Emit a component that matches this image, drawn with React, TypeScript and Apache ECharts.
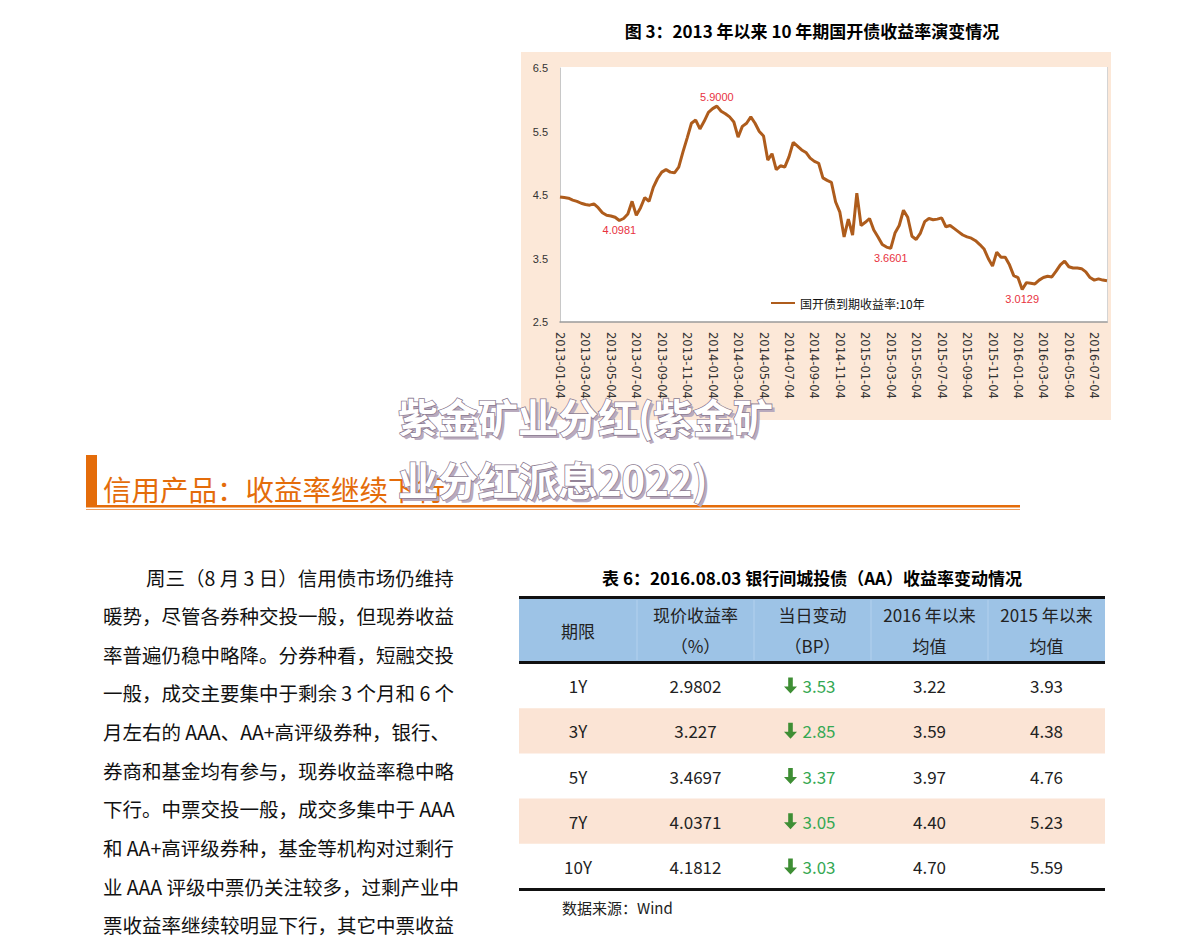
import React, { useEffect, useRef } from 'react';
import * as echarts from 'echarts';

// ---------------- data ----------------
const chartTitle = '图 3：2013 年以来 10 年期国开债收益率演变情况';
const seriesName = '国开债到期收益率:10年';

const years = [2013, 2014, 2015, 2016];
const dayMarks = ['04', '14', '24'];
const dates: string[] = [];
for (const y of years) {
  for (let m = 1; m <= 12; m++) {
    if (y === 2016 && m > 7) break;
    for (const d of dayMarks) dates.push(`${y}-${String(m).padStart(2, '0')}-${d}`);
  }
}
dates.push('2016-08-03');

const tickLabels = [
  '2013-01-04', '2013-03-04', '2013-05-04', '2013-07-04', '2013-09-04', '2013-11-04',
  '2014-01-04', '2014-03-04', '2014-05-04', '2014-07-04', '2014-09-04', '2014-11-04',
  '2015-01-04', '2015-03-04', '2015-05-04', '2015-07-04', '2015-09-04', '2015-11-04',
  '2016-01-04', '2016-03-04', '2016-05-04', '2016-07-04',
];

const yTickLabels = [2.5, 3.5, 4.5, 5.5, 6.5];

const yields = [
  4.47, 4.46, 4.45, 4.42, 4.40, 4.37, 4.35, 4.34, 4.36, 4.30,
  4.22, 4.18, 4.17, 4.15, 4.0981, 4.13, 4.20, 4.40, 4.18, 4.30,
  4.46, 4.40, 4.62, 4.76, 4.86, 4.90, 4.86, 4.85, 4.94, 5.18,
  5.40, 5.63, 5.68, 5.54, 5.66, 5.80, 5.86, 5.90, 5.82, 5.78,
  5.73, 5.65, 5.41, 5.58, 5.63, 5.73, 5.63, 5.50, 5.43, 5.05,
  5.15, 4.90, 4.96, 4.94, 5.10, 5.33, 5.27, 5.21, 5.17, 5.08,
  5.03, 5.00, 4.77, 4.73, 4.70, 4.39, 4.23, 3.84, 4.12, 3.87,
  4.53, 4.02, 4.07, 4.13, 3.95, 3.84, 3.72, 3.68, 3.6601, 3.90,
  4.02, 4.26, 4.15, 3.85, 3.80, 3.90, 4.08, 4.13, 4.11, 4.12,
  4.14, 4.00, 4.02, 3.97, 3.92, 3.87, 3.84, 3.82, 3.78, 3.72,
  3.65, 3.50, 3.38, 3.60, 3.52, 3.52, 3.40, 3.23, 3.20, 3.0129,
  3.12, 3.11, 3.10, 3.16, 3.20, 3.22, 3.21, 3.30, 3.40, 3.46,
  3.37, 3.35, 3.35, 3.34, 3.29, 3.20, 3.16, 3.18, 3.16, 3.15,
];

const extremaIdx = [14, 37, 78, 109];
const extremaPos = ['bottom', 'top', 'bottom', 'bottom'];

// heading / watermark / paragraph
const sectionHeading = '信用产品：收益率继续下行';
const watermarkLines = ['紫金矿业分红(紫金矿', '业分红派息2022)'];
const paragraphLines = [
  '周三（8 月 3 日）信用债市场仍维持',
  '暖势，尽管各券种交投一般，但现券收益',
  '率普遍仍稳中略降。分券种看，短融交投',
  '一般，成交主要集中于剩余 3 个月和 6 个',
  '月左右的 AAA、AA+高评级券种，银行、',
  '券商和基金均有参与，现券收益率稳中略',
  '下行。中票交投一般，成交多集中于 AAA',
  '和 AA+高评级券种，基金等机构对过剩行',
  '业 AAA 评级中票仍关注较多，过剩产业中',
  '票收益率继续较明显下行，其它中票收益',
];

// table
const tableTitle = '表 6：2016.08.03 银行间城投债（AA）收益率变动情况';
const headerLine1 = ['现价收益率', '当日变动', '2016 年以来', '2015 年以来'];
const headerLine2 = ['（%）', '（BP）', '均值', '均值'];
const firstHeader = '期限';
const tenors = ['1Y', '3Y', '5Y', '7Y', '10Y'];
const currentYield = ['2.9802', '3.227', '3.4697', '4.0371', '4.1812'];
const dailyChangeBP = [3.53, 2.85, 3.37, 3.05, 3.03];
const avgSince2016 = [3.22, 3.59, 3.97, 4.40, 4.70];
const avgSince2015 = [3.93, 4.38, 4.76, 5.23, 5.59];
const sourceNote = '数据来源：Wind';

// ---------------- layout ----------------
const CJK = 'Noto Sans CJK SC';
const ORANGE = '#E46C0A';

function txt(x: number, y: number, text: string, opts: any = {}) {
  const align = opts.align || 'left';
  return {
    type: 'text',
    x,
    y,
    z: opts.z ?? 10,
    style: {
      text,
      fill: opts.fill || '#111',
      fontSize: opts.fontSize || 14,
      fontFamily: opts.fontFamily || CJK,
      fontWeight: opts.fontWeight || 'normal',
      align,
      textAlign: align,
      verticalAlign: 'middle',
      textVerticalAlign: 'middle',
      stroke: opts.stroke,
      lineWidth: opts.lineWidth,
    },
  };
}

function buildGraphics() {
  const g: any[] = [];
  // chart panel
  g.push({ type: 'rect', z: -10, shape: { x: 521, y: 52, width: 590, height: 368 }, style: { fill: '#FCE8D8' } });
  g.push({ type: 'rect', z: -9, shape: { x: 560, y: 67, width: 547, height: 255 }, style: { fill: '#ffffff' } });
  g.push({ type: 'line', z: -8, shape: { x1: 1107.5, y1: 67, x2: 1107.5, y2: 323 }, style: { stroke: '#d4d4d4', lineWidth: 1 } });
  g.push(txt(812, 30, chartTitle, { align: 'center', fontSize: 17, fontWeight: 'bold', fill: '#000' }));

  // heading
  g.push({ type: 'rect', z: 5, shape: { x: 86, y: 455, width: 11, height: 51 }, style: { fill: ORANGE } });
  g.push(txt(103, 488, sectionHeading, { fontSize: 28.5, fill: ORANGE }));
  g.push({ type: 'rect', z: 5, shape: { x: 86, y: 505, width: 934, height: 2.5 }, style: { fill: ORANGE } });
  g.push({ type: 'rect', z: 5, shape: { x: 86, y: 509, width: 934, height: 1 }, style: { fill: '#F0A060' } });

  // paragraph
  paragraphLines.forEach((line, i) => {
    g.push(txt(i === 0 ? 146 : 103, 577 + i * 38.65, line, { fontSize: 19.5, fill: '#111' }));
  });

  // table
  const colX = [519, 637, 754, 871, 988, 1105];
  const colC = colX.slice(0, 5).map((x, i) => (x + colX[i + 1]) / 2);
  g.push(txt(812, 577, tableTitle, { align: 'center', fontSize: 17, fontWeight: 'bold', fill: '#000' }));
  g.push({ type: 'rect', z: 4, shape: { x: 519, y: 599, width: 586, height: 62 }, style: { fill: '#9DC3E6' } });
  for (let k = 1; k < 5; k++) {
    g.push({ type: 'line', z: 5, shape: { x1: colX[k], y1: 600, x2: colX[k], y2: 660 }, style: { stroke: '#B3D1EE', lineWidth: 1 } });
  }
  const rowTop = 663;
  const rowH = 45.2;
  tenors.forEach((_, r) => {
    if (r % 2 === 1) {
      g.push({ type: 'rect', z: 4, shape: { x: 519, y: rowTop + r * rowH, width: 586, height: rowH }, style: { fill: '#FBE4D5' } });
    }
  });
  g.push({ type: 'rect', z: 6, shape: { x: 519, y: 596, width: 586, height: 3 }, style: { fill: '#111' } });
  g.push({ type: 'rect', z: 6, shape: { x: 519, y: 661, width: 586, height: 3 }, style: { fill: '#111' } });
  g.push({ type: 'rect', z: 6, shape: { x: 519, y: 888, width: 586, height: 3 }, style: { fill: '#111' } });

  g.push(txt(colC[0], 630, firstHeader, { align: 'center', fontSize: 17, fill: '#222' }));
  headerLine1.forEach((h, i) => g.push(txt(colC[i + 1], 614, h, { align: 'center', fontSize: 17, fill: '#222' })));
  headerLine2.forEach((h, i) => g.push(txt(colC[i + 1], 645, h, { align: 'center', fontSize: 17, fill: '#222' })));

  tenors.forEach((t, r) => {
    const cy = rowTop + r * rowH + rowH / 2;
    g.push(txt(colC[0], cy, t, { align: 'center', fontSize: 17, fill: '#222' }));
    g.push(txt(colC[1], cy, currentYield[r], { align: 'center', fontSize: 17, fill: '#222' }));
    const ax = colC[2] - 22;
    g.push({
      type: 'polygon', z: 10,
      shape: { points: [[ax - 2.3, cy - 8], [ax + 2.3, cy - 8], [ax + 2.3, cy + 1], [ax + 6.5, cy + 1], [ax, cy + 8], [ax - 6.5, cy + 1], [ax - 2.3, cy + 1]] },
      style: { fill: '#3E8E34' },
    });
    g.push(txt(colC[2] - 10, cy, dailyChangeBP[r].toFixed(2), { fontSize: 17, fill: '#35A853' }));
    g.push(txt(colC[3], cy, avgSince2016[r].toFixed(2), { align: 'center', fontSize: 17, fill: '#222' }));
    g.push(txt(colC[4], cy, avgSince2015[r].toFixed(2), { align: 'center', fontSize: 17, fill: '#222' }));
  });
  g.push(txt(562, 907, sourceNote, { fontSize: 15, fill: '#222' }));

  // watermark
  const wm = [[398, 416], [398, 479]];
  watermarkLines.forEach((line, i) => {
    g.push(txt(wm[i][0] + 3, wm[i][1] + 3, line, { fontSize: 40, fontWeight: 'bold', fill: '#B9AABD', z: 100 }));
    g.push(txt(wm[i][0], wm[i][1], line, { fontSize: 40, fontWeight: 'bold', fill: '#ffffff', stroke: '#8C7C92', lineWidth: 1.6, z: 101 }));
  });
  return g;
}

export default function App() {
  const ref = useRef<HTMLDivElement>(null);
  useEffect(() => {
    if (!ref.current) return;
    const chart = echarts.init(ref.current, null, { renderer: 'svg' });
    const option: any = {
      animation: false,
      backgroundColor: '#ffffff',
      textStyle: { fontFamily: CJK },
      grid: { left: 560, top: 68, width: 547, height: 254, show: false },
      legend: {
        left: 771, top: 297, padding: 0, itemWidth: 24, itemHeight: 2, icon: 'rect', itemGap: 5,
        textStyle: { fontSize: 12, color: '#111', fontFamily: CJK },
        data: [seriesName],
      },
      xAxis: {
        type: 'category',
        data: dates,
        boundaryGap: false,
        axisLine: { show: true, lineStyle: { color: '#9a9a9a', width: 1.5 } },
        axisTick: { show: false },
        splitLine: { show: false },
        axisLabel: {
          interval: (_i: number, v: string) => tickLabels.includes(v),
          rotate: -90,
          margin: 10,
          fontFamily: 'DejaVu Sans',
          fontSize: 11.5,
          color: '#333',
        },
      },
      yAxis: {
        type: 'value',
        min: 2.5,
        max: 6.5,
        interval: 0.5,
        axisLine: { show: true, lineStyle: { color: '#c8c8c8' } },
        axisTick: { show: false },
        splitLine: { show: false },
        axisLabel: {
          formatter: (v: number) => (yTickLabels.includes(v) ? v.toFixed(1) : ''),
          fontFamily: 'Liberation Sans',
          fontSize: 11,
          color: '#333',
          margin: 12,
        },
      },
      series: [
        {
          type: 'line',
          name: seriesName,
          data: yields,
          showSymbol: false,
          symbol: 'none',
          lineStyle: { color: '#AE5C1C', width: 3 },
          itemStyle: { color: '#AE5C1C' },
          markPoint: {
            symbol: 'circle',
            symbolSize: 0,
            data: extremaIdx.map((idx, k) => ({
              coord: [dates[idx], yields[idx]],
              value: yields[idx],
              label: {
                show: true,
                position: extremaPos[k],
                distance: 4,
                formatter: yields[idx].toFixed(4),
                color: '#E8323E',
                fontSize: 11,
                fontFamily: 'Liberation Sans',
              },
            })),
          },
        },
      ],
      graphic: buildGraphics(),
    };
    chart.setOption(option);
    return () => chart.dispose();
  }, []);
  return <div ref={ref} style={{ position: 'fixed', left: 0, top: 0, width: 1191, height: 937 }} />;
}
